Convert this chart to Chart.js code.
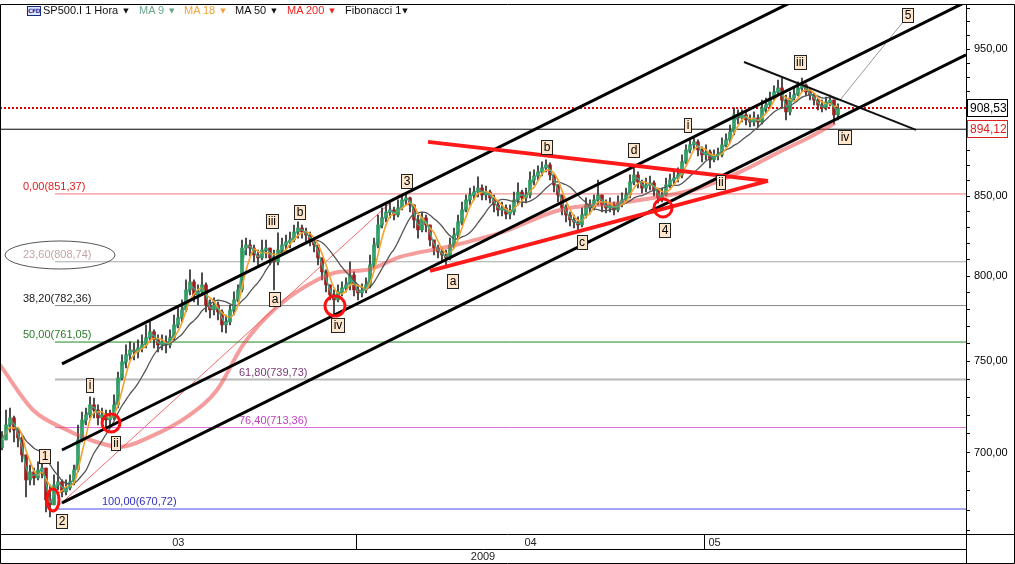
<!DOCTYPE html>
<html>
<head>
<meta charset="utf-8">
<script src="https://cdn.jsdelivr.net/npm/chart.js@4.4.1/dist/chart.umd.min.js"></script>
<style>
  html, body { margin: 0; padding: 0; background: #fff; }
  #wrap { position: relative; width: 1015px; height: 564px; }
  #chart { display: block; }
  .hd { position: absolute; top: 4px; font: 11px "Liberation Sans", Arial, sans-serif; line-height: 13px; white-space: nowrap; }
  .hd i { font-style: normal; font-size: 7px; margin-left: 5px; vertical-align: 1px; font-family: "DejaVu Sans", sans-serif; }
  .cfd { position: absolute; left: 27px; top: 6px; width: 12px; height: 8px; border: 1px solid #1a2a80; background: #dfe6ff;
         font: bold 6px "DejaVu Sans", sans-serif; color: #1a3aaa; line-height: 8px; text-align: center; letter-spacing: -0.5px; }
</style>
</head>
<body>
<div id="wrap">
  <canvas id="chart" width="1015" height="564"></canvas>
  <div class="cfd">CFD</div>
  <div class="hd" style="left:43px;color:#111">SP500.I 1 Hora<i>▼</i></div>
  <div class="hd" style="left:139px;color:#6aa88c">MA 9<i>▼</i></div>
  <div class="hd" style="left:184px;color:#f2a23a">MA 18<i>▼</i></div>
  <div class="hd" style="left:235px;color:#111">MA 50<i>▼</i></div>
  <div class="hd" style="left:287px;color:#ee2222">MA 200<i>▼</i></div>
  <div class="hd" style="left:345px;color:#111">Fibonacci 1<i style="margin-left:1px">▼</i></div>
</div>
<script>
// hourly SP500 candles (one drawn bar per ~4 px of the original)
const firstOpen = 702.5;
const closes = [
  706.7, 714.7, 718.6, 712.0, 707.8, 698.7, 685.6, 689.8, 686.6, 690.8,
  691.8, 675.3, 672.8, 683.0, 684.6, 679.4, 681.4, 684.6, 690.8, 706.7,
  717.5, 720.2, 725.7, 722.9, 718.6, 720.2, 717.5, 718.6, 725.7, 740.6,
  749.7, 753.7, 756.5, 755.4, 757.7, 759.4, 763.5, 767.0, 762.3, 759.4,
  761.1, 759.4, 763.5, 771.0, 775.1, 779.8, 791.7, 796.5, 788.7, 790.5,
  794.7, 782.7, 779.8, 782.7, 778.6, 771.0, 772.7, 779.8, 785.7, 791.7,
  817.2, 819.1, 817.2, 812.9, 811.1, 816.0, 817.2, 811.1, 808.7, 816.0,
  819.1, 821.0, 822.2, 827.2, 829.7, 827.2, 825.3, 822.2, 819.1, 811.1,
  802.6, 794.7, 788.7, 785.7, 790.5, 792.9, 794.7, 800.7, 791.7, 789.9,
  791.7, 794.7, 806.8, 819.1, 831.6, 836.1, 839.8, 841.1, 837.9, 842.4,
  847.5, 848.8, 844.3, 834.8, 828.5, 836.1, 831.6, 822.2, 817.2, 814.8,
  812.9, 811.1, 819.1, 825.3, 833.5, 841.1, 847.5, 850.7, 852.6, 855.2,
  850.7, 852.6, 848.8, 844.3, 841.1, 842.4, 838.5, 839.8, 847.5, 852.6,
  848.8, 850.7, 860.4, 863.0, 865.7, 868.3, 870.3, 863.7, 857.2, 850.7,
  842.4, 837.9, 834.8, 833.5, 831.6, 837.9, 844.3, 842.4, 847.5, 850.7,
  844.3, 842.4, 844.3, 841.1, 845.6, 847.5, 850.7, 859.1, 863.7, 859.1,
  855.2, 857.2, 858.5, 853.9, 848.8, 850.7, 857.2, 860.4, 861.7, 863.7,
  872.3, 880.2, 883.6, 885.6, 880.2, 876.9, 878.9, 873.6, 876.9, 876.9,
  883.6, 886.9, 892.3, 903.9, 901.8, 903.9, 900.4, 899.0, 901.8, 899.0,
  908.7, 910.7, 915.5, 919.7, 922.5, 914.1, 905.9, 915.5, 917.6, 922.5,
  924.6, 919.7, 917.6, 914.1, 910.7, 908.7, 912.8, 914.1, 903.9, 908.53
];
const highs = [
  711.1, 722.9, 724.0, 719.5, 713.1, 708.5, 698.7, 693.4, 691.8, 695.0,
  695.0, 691.8, 683.0, 688.2, 695.0, 685.6, 685.6, 688.2, 693.4, 714.7,
  721.8, 724.0, 730.1, 729.5, 725.7, 724.0, 722.9, 722.9, 731.2, 744.0,
  753.7, 759.4, 761.1, 760.5, 762.3, 765.2, 771.0, 772.7, 768.1, 765.2,
  765.2, 764.6, 768.1, 776.8, 781.0, 785.7, 797.7, 803.8, 797.7, 794.7,
  802.0, 795.9, 785.7, 786.9, 784.5, 779.8, 776.8, 782.7, 790.5, 794.7,
  822.2, 823.4, 822.2, 819.1, 816.0, 822.2, 822.2, 817.2, 816.0, 826.6,
  823.4, 825.3, 827.2, 831.6, 833.5, 831.6, 829.7, 827.2, 823.4, 819.1,
  811.1, 803.8, 794.7, 791.7, 794.7, 796.5, 798.9, 808.7, 802.6, 794.7,
  795.3, 798.9, 812.9, 823.4, 837.9, 842.4, 844.3, 845.6, 843.0, 847.5,
  850.7, 852.0, 849.4, 844.3, 837.9, 839.8, 837.9, 831.6, 822.2, 819.1,
  817.2, 816.0, 823.4, 829.7, 837.9, 846.2, 850.7, 855.2, 856.5, 862.4,
  857.2, 856.5, 853.9, 850.7, 846.2, 846.2, 844.3, 844.3, 852.6, 858.5,
  853.9, 855.2, 865.7, 867.0, 869.6, 872.3, 873.6, 871.6, 863.7, 857.2,
  850.7, 844.3, 839.8, 837.9, 836.7, 842.4, 848.8, 847.5, 850.7, 860.4,
  850.7, 847.5, 848.8, 846.2, 850.1, 852.0, 855.2, 863.7, 869.0, 865.7,
  860.4, 861.7, 863.0, 859.8, 855.2, 855.2, 861.7, 864.3, 865.7, 868.3,
  876.9, 883.6, 886.9, 888.3, 886.9, 882.2, 883.6, 880.2, 880.2, 881.5,
  888.3, 891.0, 897.0, 908.7, 907.3, 907.3, 906.0, 903.9, 906.0, 903.9,
  914.1, 915.5, 919.7, 923.9, 928.1, 929.5, 917.6, 919.7, 922.5, 926.7,
  929.5, 925.3, 922.5, 918.9, 915.5, 914.1, 916.2, 917.6, 914.1, 911.4
];
const lows = [
  701.3, 706.7, 710.9, 705.6, 702.9, 695.0, 676.8, 683.0, 683.0, 685.6,
  686.6, 669.2, 666.7, 672.8, 680.4, 676.8, 677.8, 680.4, 683.0, 689.8,
  705.6, 714.7, 718.6, 718.6, 714.7, 715.8, 713.1, 714.7, 717.5, 724.0,
  739.5, 746.3, 750.8, 750.8, 752.0, 755.4, 757.7, 761.1, 757.7, 755.4,
  756.5, 754.8, 757.7, 762.3, 769.3, 772.7, 778.6, 788.7, 784.5, 782.7,
  788.7, 778.6, 775.1, 776.8, 773.9, 766.9, 766.3, 771.0, 776.8, 784.5,
  790.5, 812.9, 812.3, 808.7, 806.8, 809.9, 811.1, 806.8, 791.7, 806.8,
  812.9, 816.0, 817.2, 821.0, 823.4, 823.4, 821.0, 818.5, 814.8, 806.8,
  797.7, 790.5, 785.7, 776.8, 784.5, 788.1, 790.5, 791.7, 788.1, 785.7,
  787.5, 789.9, 792.9, 805.0, 817.2, 829.7, 833.5, 836.1, 834.8, 836.7,
  841.1, 844.3, 839.8, 829.7, 823.4, 827.2, 827.2, 818.5, 812.9, 811.1,
  808.7, 806.8, 809.9, 817.2, 823.4, 831.6, 839.8, 844.3, 847.5, 849.4,
  847.5, 847.5, 845.6, 839.8, 837.3, 837.3, 835.4, 835.4, 837.9, 844.3,
  843.0, 845.6, 848.8, 857.2, 860.4, 863.0, 865.7, 860.4, 852.6, 846.2,
  837.9, 833.5, 831.0, 829.7, 828.5, 830.4, 836.1, 838.5, 841.1, 844.3,
  839.8, 839.2, 839.8, 837.9, 839.8, 843.0, 845.6, 848.8, 857.2, 855.2,
  852.0, 852.6, 853.9, 850.1, 845.6, 846.2, 850.1, 855.2, 857.2, 859.1,
  861.7, 870.9, 878.2, 880.2, 876.2, 872.3, 873.6, 868.3, 872.3, 873.6,
  875.6, 882.2, 884.9, 890.3, 897.7, 899.0, 897.0, 895.6, 896.3, 895.6,
  897.5, 905.3, 908.7, 914.1, 917.6, 908.7, 900.4, 903.9, 914.1, 916.9,
  919.7, 916.9, 914.1, 910.7, 907.3, 905.9, 907.3, 910.0, 897.7, 900.4
];
const opens = closes.map((c, i) => (i === 0 ? firstOpen : closes[i - 1]));

const ma200Bars = [-0.5, 7.75, 16.25, 22, 29.5, 37, 46.25, 53.75, 60.25, 68.75, 78.75, 84.5,
  91.25, 99.5, 111.25, 124.5, 139.5, 154.5, 169.5, 174.5, 184.5, 195.25, 202, 208.25];
const ma200Values = [748.0, 722.9, 712.0, 706.7, 703.0, 708.3, 719.1, 733.9, 759.4, 781.5, 797.7, 802.6,
  803.8, 811.7, 817.8, 826.6, 841.1, 845.6, 852.0, 855.2, 865.7, 880.2, 888.9, 898.3];
// spans of the shorter averages, counted in drawn bars
const maSpans = { ma9: 2, ma18: 4, ma50: 11 };

const fibRatios = ['0,00', '23,60', '38,20', '50,00', '61,80', '76,40', '100,00'];
const fibPrices = [851.37, 808.74, 782.36, 761.05, 739.73, 713.36, 670.72];
const fibLabelBar = [5.25, 5.25, 5.25, 5.25, 59.25, 59.25, 25];
const fibStartBar = 13.25;
const lastPrice = 908.53;
const ma200Last = 894.12;

const channelLines = [
  [[15, 748.6], [197, 983.9]],
  [[15, 701.3], [241, 984.6]],
  [[15, 673.8], [241, 945.9]]
];
const triangleLines = [
  [[106.5, 885.6], [191.5, 859.8]],
  [[107, 803.2], [191.5, 859.8]]
];
const topTrend = [[185.5, 940.8], [228.5, 893.7]];
const targetLine = [[209.5, 914.1], [225.25, 969.8]];
const fibDiagonal = [[13.25, 670.72], [99.5, 851.37]];

const waveText = ['1', '2', 'i', 'ii', 'iii', 'b', 'a', 'iv', '3', 'a', 'b', 'c', 'd', '4', 'i', 'ii', 'iii', 'iv', '5'];
const waveBar = [10.75, 15, 22, 28.5, 67.5, 74.5, 68.25, 84, 101.25, 112.75, 136.25, 145, 158, 165.75, 171.5, 179.75, 199.5, 210.75, 226.5];
const wavePrice = [698.2, 664.7, 736.7, 705.1, 834.2, 839.8, 786.3, 771.0, 859.8, 797.1, 882.2, 821.0, 880.2, 828.5, 897.0, 859.1, 940.8, 888.9, 974.9];

const ringBar = [12.75, 27.25, 83.25, 165.25];
const ringPrice = [675.3, 715.8, 782.1, 842.4];

const priceTicks = [660, 670, 680, 690, 700, 710, 720, 730, 740, 750, 760, 770, 780, 790, 800, 810,
  820, 830, 840, 850, 860, 870, 880, 890, 900, 910, 920, 930, 940, 950, 960, 970, 980];
const labelledTicks = [700, 750, 800, 850, 950];
const monthLabels = ['03', '04', '05'];
const monthStartBar = [89, 176];
const yearLabel = '2009';

// ---- styles
const FONT = '"Liberation Sans", Arial, sans-serif';
const UP = '#2f9a5a', DOWN = '#a01e1e', WICK = '#2a2a2a';
const fibColors = ['#f07878', '#a8a8a8', '#888888', '#1e8a1e', '#b8b8b8', '#e070e0', '#a4a4f2'];
const fibWidths = [1, 1, 1, 1, 2, 1, 2];
const fibTextColors = ['#dd2020', '#c4a4a4', '#202020', '#2a7a2a', '#7a3a7a', '#c040c0', '#3030c0'];
const ringSize = [[6, 11], [9, 9], [10, 10], [9, 9]];

const fmt = v => v.toFixed(2).replace('.', ',');

function movingAverage(values, span) {
  return values.map((v, i) => {
    const win = values.slice(Math.max(0, i - span + 1), i + 1);
    return win.reduce((s, x) => s + x, 0) / win.length;
  });
}

const pts = arr => arr.map(([x, y]) => ({ x, y }));
const seg = (data, color, width, order, extra) =>
  Object.assign({ type: 'line', data: pts(data), borderColor: color, borderWidth: width,
    pointRadius: 0, fill: false, order }, extra || {});

const bars = closes.map((c, i) => i);
const datasets = [];

channelLines.forEach(l => datasets.push(seg(l, '#000', 3, 1)));
triangleLines.forEach(l => datasets.push(seg(l, '#ff1a1a', 4, 0)));
datasets.push(seg(topTrend, '#111', 2, 1));
datasets.push(seg(targetLine, '#999', 1, 1));

const maLine = (vals, color, width) => ({
  type: 'line', data: bars.map(i => ({ x: i, y: vals[i] })), borderColor: color, borderWidth: width,
  pointRadius: 0, tension: 0.3, fill: false, order: 2
});
datasets.push(maLine(movingAverage(closes, maSpans.ma9), '#3ea584', 1.4));
datasets.push(maLine(movingAverage(closes, maSpans.ma18), '#f5a22a', 1.6));
datasets.push(maLine(movingAverage(closes, maSpans.ma50), '#555', 1.3));
datasets.push({
  type: 'line', data: ma200Bars.map((b, k) => ({ x: b, y: ma200Values[k] })),
  borderColor: 'rgba(236,76,76,0.55)', borderWidth: 4, pointRadius: 0,
  cubicInterpolationMode: 'monotone', fill: false, order: 3
});

datasets.push({
  type: 'bar', data: bars.map(i => ({ x: i, y: [opens[i], closes[i]] })),
  backgroundColor: bars.map(i => (closes[i] >= opens[i] ? UP : DOWN)),
  barThickness: 3, grouped: false, minBarLength: 1, order: 4
});
datasets.push({
  type: 'bar', data: bars.map(i => ({ x: i, y: [lows[i], highs[i]] })),
  backgroundColor: WICK, barThickness: 1, grouped: false, order: 5
});

datasets.push(seg([[-0.5, lastPrice], [241, lastPrice]], '#dd0000', 2, 6, { borderDash: [2, 2] }));
datasets.push(seg([[-0.5, ma200Last], [241, ma200Last]], '#000', 1, 6));
fibPrices.forEach((p, k) => datasets.push(seg([[fibStartBar, p], [241, p]], fibColors[k], fibWidths[k], 7)));
datasets.push(seg(fibDiagonal, '#f06a6a', 1, 7));

const overlay = {
  id: 'overlay',
  afterDatasetsDraw(chart) {
    const { ctx, scales: { x, y } } = chart;
    const X = v => x.getPixelForValue(v), Y = v => y.getPixelForValue(v);
    ctx.save();
    ctx.font = '11px ' + FONT;
    ctx.textBaseline = 'alphabetic';
    fibPrices.forEach((p, k) => {
      ctx.fillStyle = fibTextColors[k];
      ctx.fillText(fibRatios[k] + '(' + fmt(p) + ')', X(fibLabelBar[k]), Y(p) - 4);
    });
    // ellipse round the 23,60 level text
    ctx.strokeStyle = '#555';
    ctx.lineWidth = 1;
    ctx.beginPath();
    ctx.ellipse(X(14.5), Y(812.9), 55, 14, 0, 0, Math.PI * 2);
    ctx.stroke();

    ctx.strokeStyle = '#ff1010';
    ctx.lineWidth = 3;
    ringBar.forEach((b, k) => {
      ctx.beginPath();
      ctx.ellipse(X(b), Y(ringPrice[k]), ringSize[k][0], ringSize[k][1], 0, 0, Math.PI * 2);
      ctx.stroke();
    });

    ctx.font = '12px ' + FONT;
    ctx.textAlign = 'center';
    ctx.textBaseline = 'middle';
    ctx.lineWidth = 1;
    waveText.forEach((t, k) => {
      const cx = Math.round(X(waveBar[k])), cy = Math.round(Y(wavePrice[k]));
      const w = Math.round(ctx.measureText(t).width) + 5, h = 15;
      const l = cx - Math.floor(w / 2), tp = cy - 7;
      ctx.fillStyle = '#ffe6cc';
      ctx.fillRect(l, tp, w, h);
      ctx.strokeStyle = '#222';
      ctx.strokeRect(l + 0.5, tp + 0.5, w - 1, h - 1);
      ctx.fillStyle = '#000';
      ctx.fillText(t, cx, cy + 1);
    });
    ctx.restore();
  }
};

const frame = {
  id: 'frame',
  afterDraw(chart) {
    const { ctx, chartArea: a, scales: { x, y } } = chart;
    ctx.save();
    ctx.strokeStyle = '#000';
    ctx.lineWidth = 1;
    const r = a.right + 0.5, b = a.bottom - 0.5;
    const m = monthStartBar.map(s => Math.round(x.getPixelForValue(s - 0.5)) + 0.5);
    ctx.beginPath();
    ctx.rect(0.5, 4.5, 1014, 559);
    ctx.moveTo(r, 4.5); ctx.lineTo(r, 563.5);
    ctx.moveTo(0, b); ctx.lineTo(1015, b);
    ctx.moveTo(0, b + 15); ctx.lineTo(r, b + 15);
    m.forEach(px => { ctx.moveTo(px, b); ctx.lineTo(px, b + 15); });
    ctx.stroke();

    ctx.font = '11px ' + FONT;
    ctx.fillStyle = '#222';
    ctx.textBaseline = 'middle';
    ctx.textAlign = 'center';
    ctx.fillText(monthLabels[0], (a.left + m[0]) / 2, b + 8);
    ctx.fillText(monthLabels[1], (m[0] + m[1]) / 2, b + 8);
    ctx.fillText(yearLabel, (a.left + a.right) / 2, b + 22);
    ctx.textAlign = 'left';
    ctx.fillText(monthLabels[2], m[1] + 4, b + 8);

    // current price boxes on the axis
    ctx.font = '12px ' + FONT;
    [[lastPrice, '#000', '#000'], [ma200Last, '#dd2020', '#dd2020']].forEach(([v, border, text]) => {
      const py = Math.round(y.getPixelForValue(v));
      ctx.fillStyle = '#fff';
      ctx.fillRect(967, py - 9, 41, 18);
      ctx.strokeStyle = border;
      ctx.strokeRect(967.5, py - 8.5, 40, 17);
      ctx.fillStyle = text;
      ctx.fillText(fmt(v), 970, py + 1);
    });
    ctx.restore();
  }
};

new Chart(document.getElementById('chart'), {
  type: 'bar',
  data: { datasets },
  options: {
    responsive: false,
    animation: false,
    events: [],
    layout: { padding: { top: 5, bottom: 29, left: 0, right: 0 } },
    plugins: { legend: { display: false }, tooltip: { enabled: false } },
    scales: {
      x: { type: 'linear', min: -0.5, max: 241, offset: false, display: false },
      y: {
        type: 'logarithmic', position: 'right', min: 657.6, max: 982.3, bounds: 'data',
        afterBuildTicks: s => { s.ticks = priceTicks.map(v => ({ value: v })); },
        afterFit: s => { s.width = 49; s.paddingTop = 0; s.paddingBottom = 0; },
        grid: { drawOnChartArea: false, drawTicks: true, tickLength: 4, color: '#000' },
        border: { display: false },
        ticks: {
          autoSkip: false, padding: 4, color: '#000', font: { size: 11, family: FONT },
          callback: v => (labelledTicks.includes(v) ? fmt(v) : '')
        }
      }
    }
  },
  plugins: [overlay, frame]
});
</script>
</body>
</html>
